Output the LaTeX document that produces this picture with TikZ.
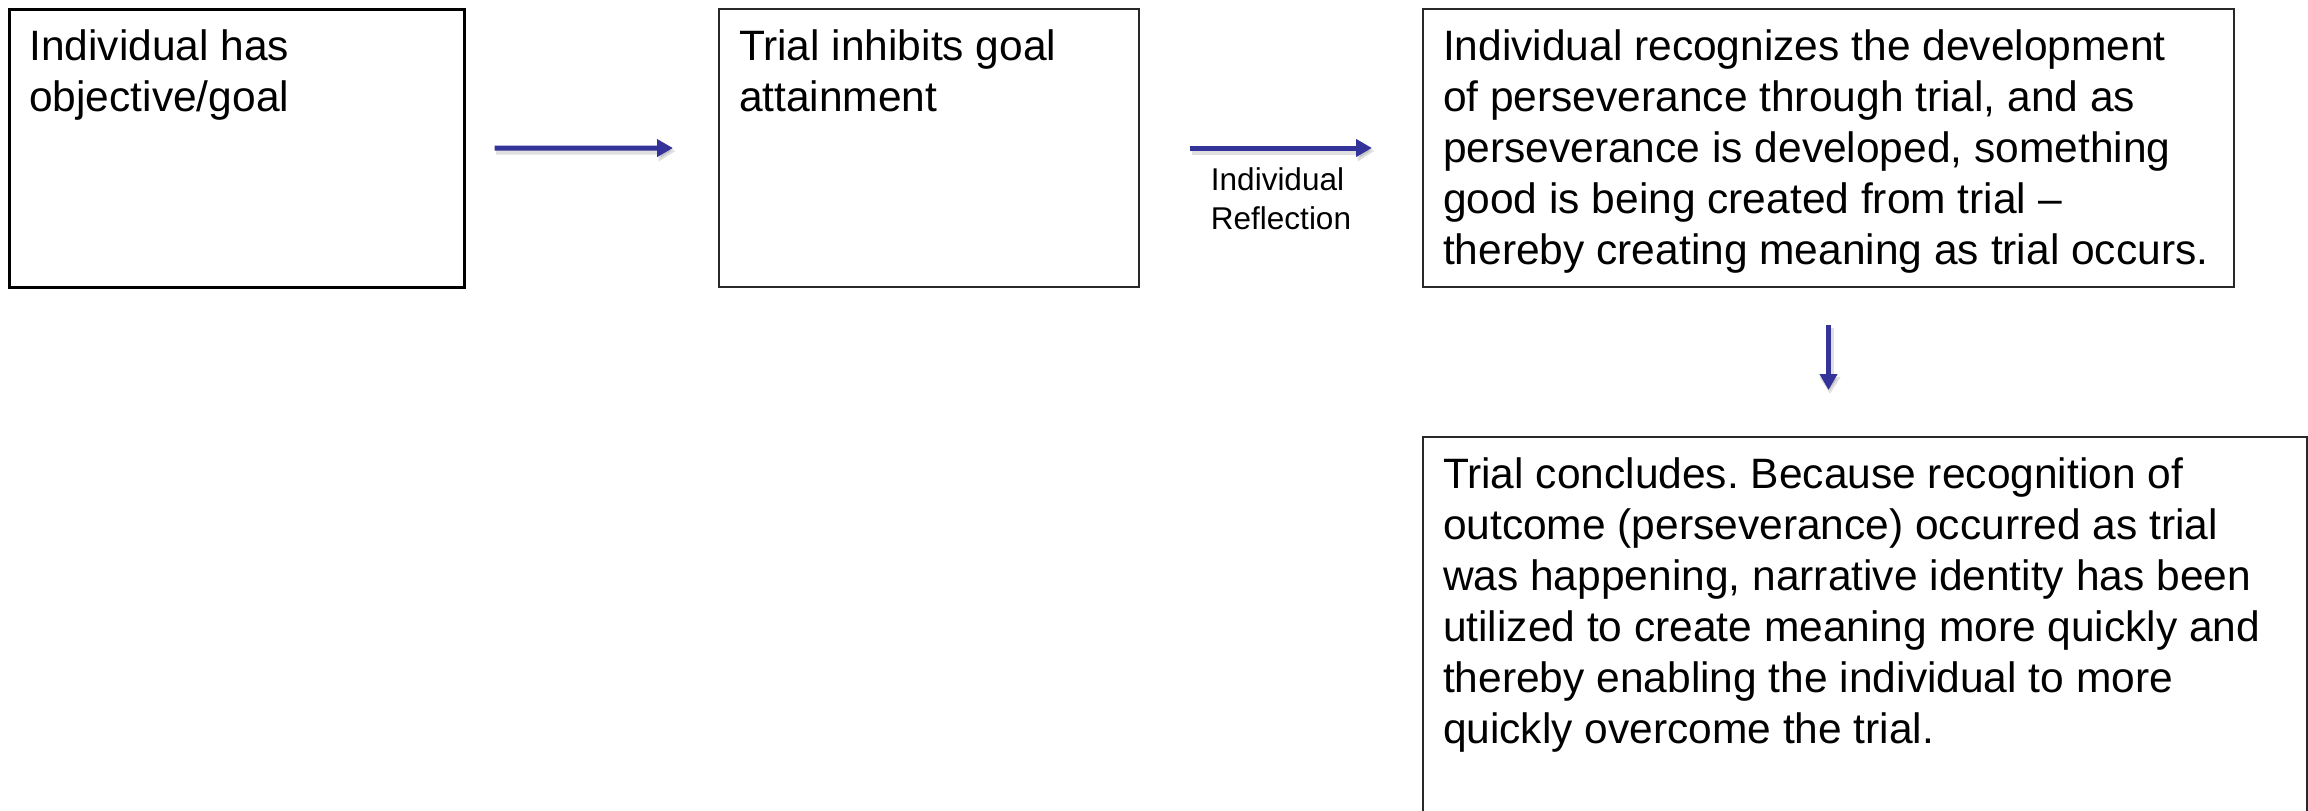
\documentclass[tikz,border=0pt]{standalone}
\usepackage{fontspec}
\setmainfont{Liberation Sans}
\usetikzlibrary{arrows.meta}
\frenchspacing
\definecolor{arrowblue}{RGB}{51,51,153}
\definecolor{boxline}{RGB}{40,40,40}
\tikzset{
  box/.style={draw=boxline, line width=2pt, anchor=north west, inner xsep=20pt, inner ysep=0pt,
              font=\fontsize{42.5}{51}\selectfont},
  flow/.style={draw=arrowblue, line width=5pt, -{Triangle[length=16pt,width=17pt]}},
  flowshadow/.style={draw=black, opacity=0.12, line width=7pt, -{Triangle[length=17pt,width=20pt]}},
  lbl/.style={inner sep=0pt, align=left, font=\fontsize{31.5}{39}\selectfont}
}
\newcommand{\boxtext}[3]{\parbox[t][#1][t]{#2}{\raggedright\frenchspacing\rule{0pt}{51pt}#3}}
\begin{document}
\begin{tikzpicture}[x=1pt,y=-1pt]
\useasboundingbox (0,0) rectangle (2308,811);
\node[box, line width=2.5pt, draw=black] (b1) at (8,8) {\boxtext{278pt}{415pt}{Individual has\\objective/goal}};
\node[box] (b2) at (718,8) {\boxtext{278pt}{380pt}{Trial inhibits goal\\attainment}};
\node[box] (b3) at (1422,8) {\boxtext{278pt}{771pt}{Individual recognizes the development\\of perseverance through trial, and as\\perseverance is developed, something\\good is being created from trial --\\thereby creating meaning as trial occurs.}};
\node[box] (b4) at (1422,436) {\boxtext{400pt}{844pt}{Trial concludes. Because recognition of\\outcome (perseverance) occurred as trial\\was happening, narrative identity has been\\utilized to create meaning more quickly and\\thereby enabling the individual to more\\quickly overcome the trial.}};
% shadows
\draw[flowshadow, shorten <=29pt, shorten >=44pt, transform canvas={xshift=1.5pt,yshift=-3pt}] (b1.east) -- (b2.west);
\draw[flowshadow, shorten <=50pt, shorten >=49pt, transform canvas={xshift=1.5pt,yshift=-3pt}] (b2.east) -- (b3.west);
\draw[flowshadow, shorten <=37pt, shorten >=45pt, transform canvas={xshift=1.5pt,yshift=-3pt}] (b3.south) -- (b3.south |- b4.north);
% arrows
\draw[flow, shorten <=29pt, shorten >=45pt] (b1.east) -- (b2.west);
\draw[flow, shorten <=50pt, shorten >=50pt] (b2.east) -- (b3.west)
  node[lbl, midway, below, yshift=-17pt] (refl) {Individual\\Reflection};
\draw[flow, shorten <=37pt, shorten >=46pt] (b3.south) -- (b3.south |- b4.north);
\end{tikzpicture}
\end{document}
